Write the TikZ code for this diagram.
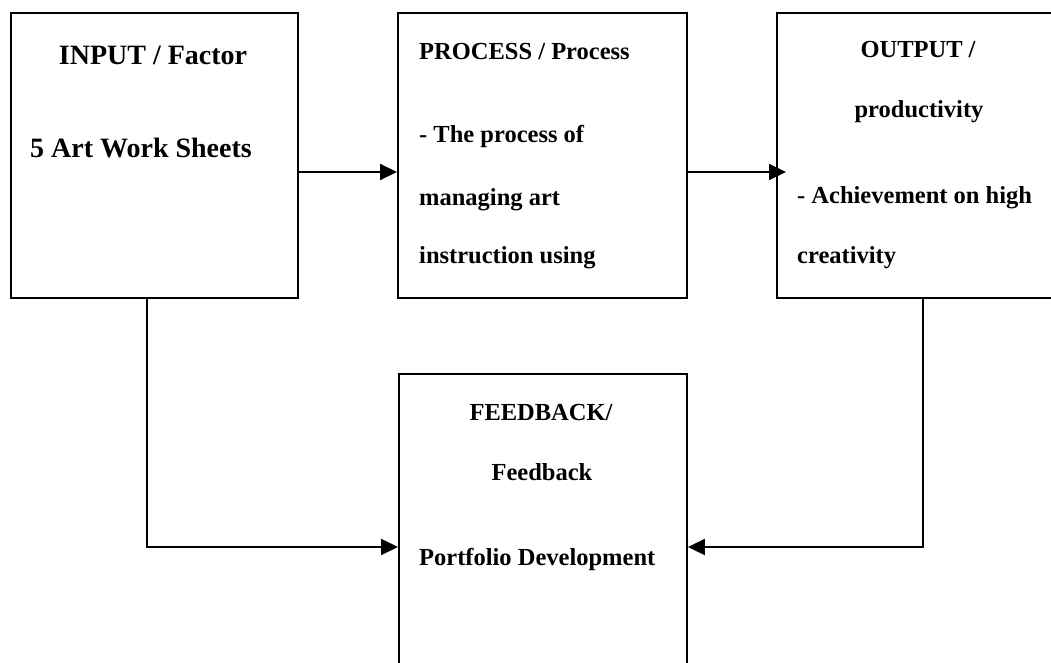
\documentclass[tikz,border=0pt]{standalone}
\usepackage{fontspec}
\setmainfont{Liberation Serif}
\usetikzlibrary{arrows.meta,calc}
\begin{document}
\begin{tikzpicture}[x=1pt,y=-1pt,
  box/.style={draw=black,line width=1.9pt,minimum width=#1,inner sep=0pt,anchor=north west},
  arr/.style={draw=black,line width=1.9pt,-{Triangle[length=17pt,width=16pt]}},
  big/.style={inner sep=0pt,font=\bfseries\fontsize{28}{34}\selectfont},
  txt/.style={inner sep=0pt,font=\bfseries\fontsize{24.5}{30}\selectfont}]
\useasboundingbox (0,0) rectangle (1051,663);
\clip (0,0) rectangle (1051,663);
% boxes
\node[box=287pt,minimum height=285pt] (in) at (10,12) {};
\node[box=289pt,minimum height=285pt] (pr) at (397,12) {};
\node[box=289pt,minimum height=285pt] (out) at (776,12) {};
\node[box=288pt,minimum height=330pt] (fb) at (398,373) {};
% texts
\node[big,anchor=base] (t1) at (153,65) {INPUT / Factor};
\node[big,anchor=base west] (t2) at (30,158) {5 Art Work Sheets};
\node[txt,anchor=base west] (p1) at (419,60) {PROCESS / Process};
\node[txt,anchor=base west] (p2) at (419,143) {- The process of};
\node[txt,anchor=base west] (p3) at (419,205) {managing art};
\node[txt,anchor=base west] (p4) at (419,263) {instruction using};
\node[txt,anchor=base] (o1) at (918,58) {OUTPUT /};
\node[txt,anchor=base] (o2) at (919,118) {productivity};
\node[txt,anchor=base west] (o3) at (797,203) {- Achievement on high};
\node[txt,anchor=base west] (o4) at (797,263) {creativity};
\node[txt,anchor=base] (f1) at (541,420) {FEEDBACK/};
\node[txt,anchor=base] (f2) at (542,480) {Feedback};
\node[txt,anchor=base west] (f3) at (419,565) {Portfolio Development};
% connectors
\coordinate (ay) at (0,172);
\coordinate (by) at (0,547);
\coordinate (inx) at (147,0);
\coordinate (outx) at (923,0);
\draw[arr] (in.east |- ay) -- (pr.west |- ay);
\draw[arr] (pr.east |- ay) -- ($(out.west |- ay)+(10,0)$);
\draw[arr] (in.south -| inx) |- (fb.west |- by);
\draw[arr] (out.south -| outx) |- (fb.east |- by);
\end{tikzpicture}
\end{document}
